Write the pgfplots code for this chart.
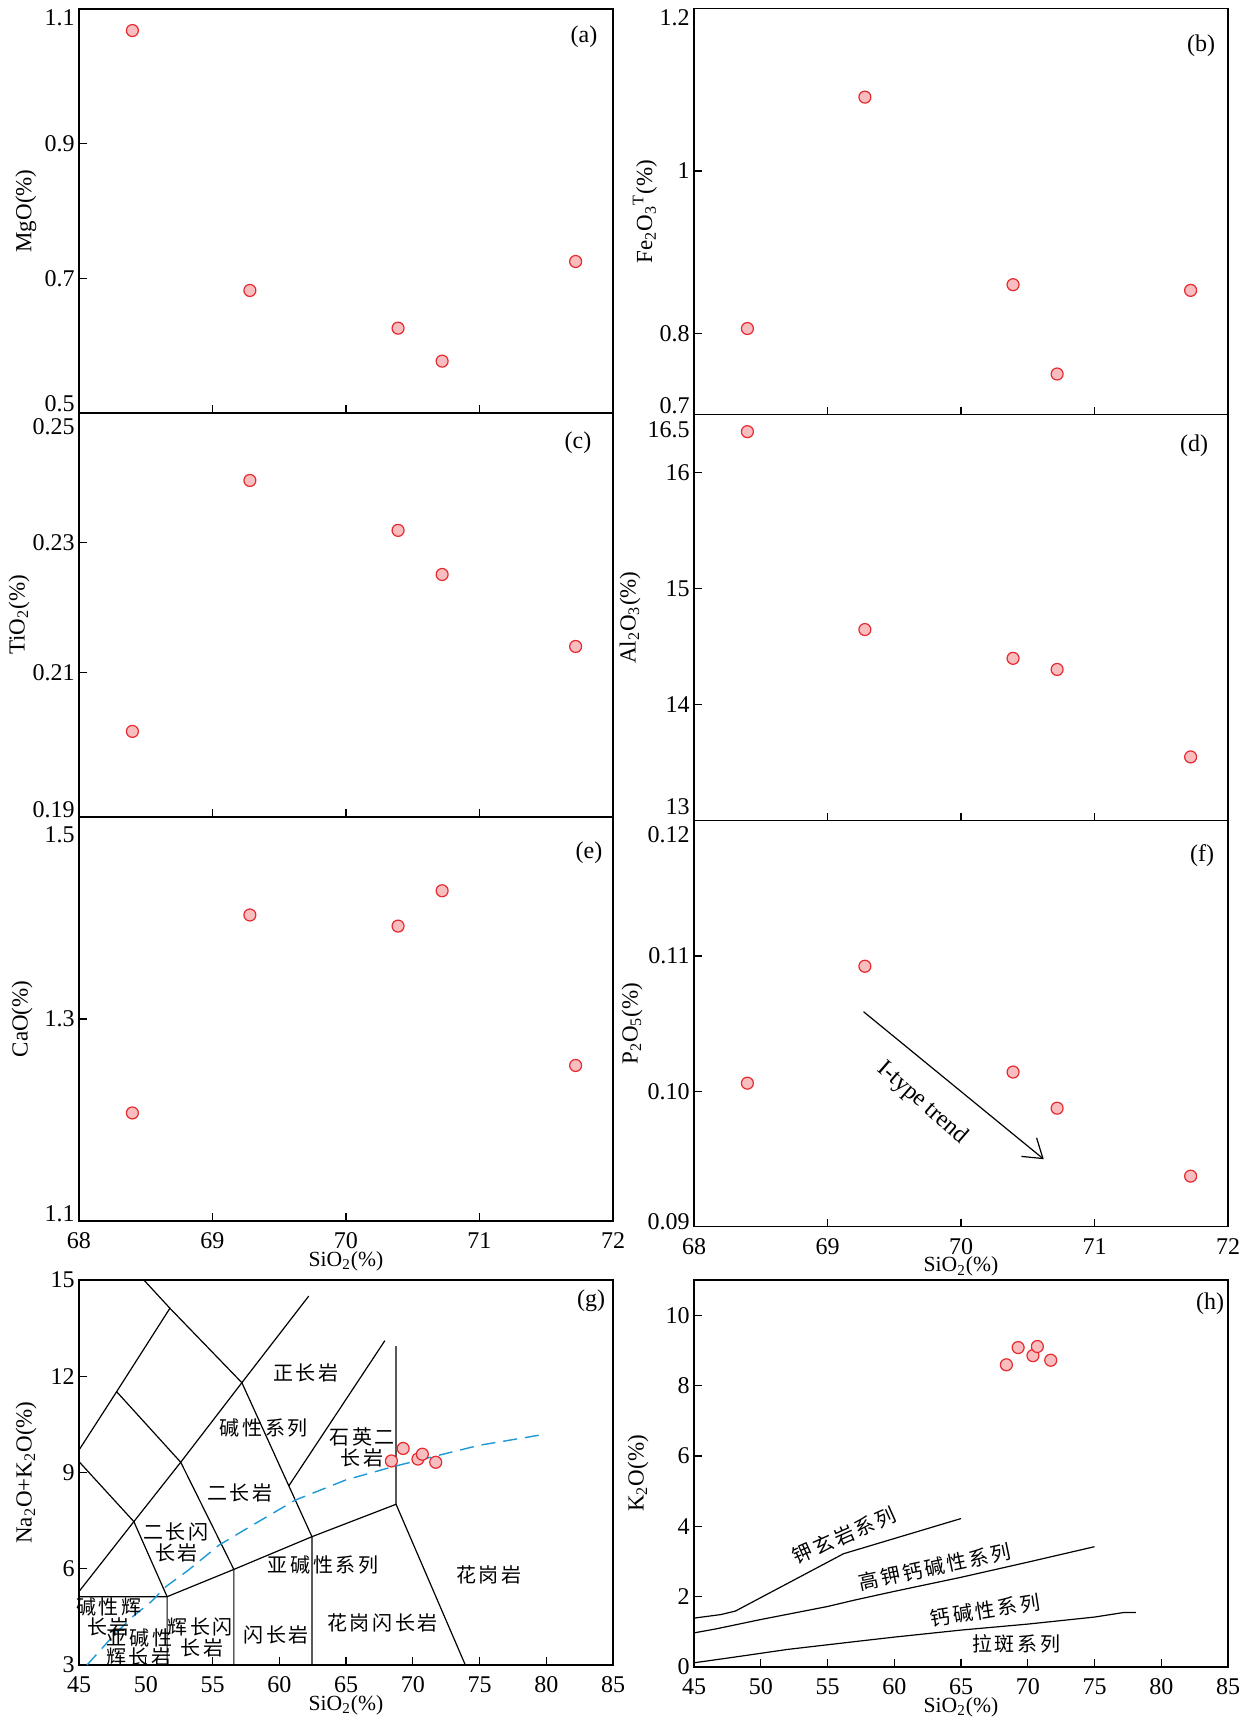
\documentclass[border=0pt]{standalone}
\usepackage{fontspec}
\setmainfont{Liberation Serif}
\newfontfamily\cjk[LetterSpace=13]{Noto Sans CJK SC}
\usepackage{pgfplots}
\pgfplotsset{compat=1.18}
\usetikzlibrary{arrows.meta,calc}
\definecolor{mkfill}{HTML}{F7BDBF}
\definecolor{mkedge}{HTML}{E62A2F}
\definecolor{tasblue}{HTML}{1A9AD6}
\newcommand{\rb}[2]{\raisebox{#1}[\height][\depth]{#2}}
\tikzset{
  plab/.style={font=\fontsize{12}{12}\selectfont},
  cj/.style={font=\cjk\fontsize{10}{10}\selectfont, inner sep=0pt},
}
\pgfplotsset{
  base/.style={
    scale only axis, anchor=north west,
    axis line style={line width=0.8pt},
    every tick/.style={black, line width=0.6pt},
    major tick length=4pt,
    xtick pos=bottom, ytick pos=left,
    extra y tick style={major tick length=0pt},
    extra x tick style={major tick length=0pt},
    tick label style={font=\fontsize{12}{12}\selectfont},
    yticklabel style={anchor=east, inner sep=0pt, xshift=-2pt},
    xticklabel style={anchor=center, yshift=-10pt},
    every axis y label/.style={rotate=90, anchor=center, font=\fontsize{11.5}{11.5}\selectfont},
    every axis x label/.style={at={(rel axis cs:0.5,0)}, anchor=center, yshift=-20pt, font=\fontsize{10.8}{10.8}\selectfont},
    clip=false,
  },
  toppanel/.style={base, width=267pt, height=202pt, xmin=68, xmax=72, xtick={69,70,71}},
  dots/.style={only marks, mark=*, mark size=3pt, mark options={fill=mkfill, draw=mkedge, line width=0.6pt}},
  bd/.style={black, line width=0.6pt, mark=none, solid},
}
\begin{document}
\begin{tikzpicture}
\useasboundingbox (0pt,0pt) rectangle (624pt,-860pt);

% (a)
\begin{axis}[toppanel, at={(39.5pt,-4.5pt)}, ymin=0.5, ymax=1.1,
  xticklabels={},
  ytick={0.7,0.9}, yticklabels={0.7,0.9},
  extra y ticks={0.5,1.1}, extra y tick labels={{\rb{4.5pt}{0.5}},{\rb{-4.6pt}{1.1}}},
  ylabel={MgO(\%)}, ylabel style={at={($(rel axis cs:0,0.5)+(-26.5pt,0pt)$)}}]
\addplot[dots] coordinates {(68.40,1.068) (69.28,0.682) (70.39,0.626) (70.72,0.577) (71.72,0.725)};
\node[plab] at ($(rel axis cs:1,1)+(-14.5pt,-14pt)$) {(a)};
\end{axis}

% (b)
\begin{axis}[toppanel, at={(347pt,-4.3pt)}, height=203pt, ymin=0.7, ymax=1.2,
  xticklabels={},
  ytick={0.8,1}, yticklabels={0.8,1},
  extra y ticks={0.7,1.2}, extra y tick labels={{\rb{4.5pt}{0.7}},{\rb{-4.8pt}{1.2}}},
  ylabel={Fe\textsubscript{2}O\textsubscript{3}\textsuperscript{T}(\%)}, ylabel style={at={($(rel axis cs:0,0.5)+(-24.5pt,0pt)$)}}]
\addplot[dots] coordinates {(68.40,0.806) (69.28,1.091) (70.39,0.860) (70.72,0.750) (71.72,0.853)};
\node[plab] at ($(rel axis cs:1,1)+(-13.5pt,-18.5pt)$) {(b)};
\end{axis}

% (c)
\begin{axis}[toppanel, at={(39.5pt,-206.5pt)}, ymin=0.1877, ymax=0.25,
  xticklabels={},
  ytick={0.21,0.23}, yticklabels={0.21,0.23},
  extra y ticks={0.19,0.25}, extra y tick labels={{\rb{-4pt}{0.19}},{\rb{-7pt}{0.25}}},
  ylabel={TiO\textsubscript{2}(\%)}, ylabel style={at={($(rel axis cs:0,0.5)+(-30pt,0pt)$)}}]
\addplot[dots] coordinates {(68.40,0.2009) (69.28,0.2396) (70.39,0.2319) (70.72,0.2251) (71.72,0.2140)};
\node[plab] at ($(rel axis cs:1,1)+(-17.5pt,-14.8pt)$) {(c)};
\end{axis}

% (d)
\begin{axis}[toppanel, at={(347pt,-207.3pt)}, height=203pt, ymin=13, ymax=16.5,
  xticklabels={},
  ytick={14,15,16}, yticklabels={14,15,16},
  extra y ticks={13,16.5}, extra y tick labels={{\rb{7pt}{13}},{\rb{-7.7pt}{16.5}}},
  ylabel={Al\textsubscript{2}O\textsubscript{3}(\%)}, ylabel style={at={($(rel axis cs:0,0.5)+(-32pt,0pt)$)}}]
\addplot[dots] coordinates {(68.40,16.353) (69.28,14.647) (70.39,14.399) (70.72,14.303) (71.72,13.549)};
\node[plab] at ($(rel axis cs:1,1)+(-17pt,-15.5pt)$) {(d)};
\end{axis}

% (e)
\begin{axis}[toppanel, at={(39.5pt,-408.5pt)}, ymin=1.1, ymax=1.5,
  xticklabels={69,70,71},
  extra x ticks={68,72}, extra x tick labels={68,72},
  ytick={1.3}, yticklabels={1.3},
  extra y ticks={1.1,1.5}, extra y tick labels={{\rb{3.5pt}{1.1}},{\rb{-9pt}{1.5}}},
  xlabel={SiO\textsubscript{2}(\%)},
  ylabel={CaO(\%)}, ylabel style={at={($(rel axis cs:0,0.5)+(-28.5pt,0pt)$)}}]
\addplot[dots] coordinates {(68.40,1.207) (69.28,1.403) (70.39,1.392) (70.72,1.427) (71.72,1.254)};
\node[plab] at ($(rel axis cs:1,1)+(-12pt,-18pt)$) {(e)};
\end{axis}

% (f)
\begin{axis}[toppanel, at={(347pt,-410.3pt)}, height=203pt, ymin=0.09, ymax=0.12,
  xticklabels={69,70,71},
  extra x ticks={68,72}, extra x tick labels={68,72},
  ytick={0.10,0.11}, yticklabels={0.10,0.11},
  extra y ticks={0.09,0.12}, extra y tick labels={{\rb{2.5pt}{0.09}},{\rb{-7pt}{0.12}}},
  xlabel={SiO\textsubscript{2}(\%)},
  ylabel={P\textsubscript{2}O\textsubscript{5}(\%)}, ylabel style={at={($(rel axis cs:0,0.5)+(-31pt,0pt)$)}}]
\addplot[dots] coordinates {(68.40,0.1006) (69.28,0.10924) (70.39,0.10142) (70.72,0.09875) (71.72,0.09373)};
\addplot[bd, -{Straight Barb[length=9pt,width=12pt]}] coordinates {(69.27,0.10588) (70.62,0.09498)};
\node[plab, rotate=-41] at (axis cs:69.71,0.09914) {I-type trend};
\node[plab] at ($(rel axis cs:1,1)+(-13pt,-17.5pt)$) {(f)};
\end{axis}

% (g)
\begin{axis}[base, at={(39.5pt,-640pt)}, width=267pt, height=192.5pt,
  xmin=45, xmax=85, ymin=3, ymax=15,
  xtick={50,55,...,80}, xticklabels={50,55,60,65,70,75,80},
  extra x ticks={45,85}, extra x tick labels={45,85},
  ytick={6,9,12}, yticklabels={6,9,12},
  extra y ticks={3,15}, extra y tick labels={3,15},
  xlabel={SiO\textsubscript{2}(\%)},
  ylabel={Na\textsubscript{2}O+K\textsubscript{2}O(\%)}, ylabel style={at={($(rel axis cs:0,0.5)+(-26.5pt,0pt)$)}}]
\addplot[bd] coordinates {(49.86,15) (51.81,14.12) (57.2,11.8) (62.45,7.0) (62.45,3)};
\addplot[bd] coordinates {(45,9.70) (47.82,11.52) (51.81,14.12)};
\addplot[bd] coordinates {(47.82,11.52) (52.62,9.32) (56.6,5.98) (56.6,3)};
\addplot[bd] coordinates {(45,5.29) (49.11,7.47) (52.62,9.32) (57.2,11.8) (62.21,14.5)};
\addplot[bd] coordinates {(45,9.34) (49.11,7.47) (51.6,5.13) (51.6,3)};
\addplot[bd] coordinates {(45,5.13) (51.6,5.13) (56.6,5.98) (62.45,7.0) (68.75,8.01) (68.75,12.94)};
\addplot[bd] coordinates {(68.75,8.01) (73.94,3)};
\addplot[bd] coordinates {(60.71,8.58) (67.91,13.11)};
\addplot[tasblue, line width=0.7pt, mark=none, dash pattern=on 7pt off 4pt] coordinates {(45.6,3.0) (47.5,3.88) (49.0,4.5) (50.4,4.97) (51.5,5.44) (53.2,5.96) (55.5,6.74) (58.0,7.36) (61.2,8.14) (65.0,8.77) (68.5,9.18) (71.0,9.44) (75.0,9.85) (80.0,10.2)};
\addplot[dots] coordinates {(68.40,9.36) (69.28,9.75) (70.39,9.42) (70.72,9.57) (71.72,9.32)};
\node[cj] at (axis cs:62.0,12.09) {正长岩};
\node[cj] at (axis cs:58.85,10.38) {碱性系列};
\node[cj] at (axis cs:66.2,10.12) {石英二};
\node[cj] at (axis cs:66.2,9.47) {长岩};
\node[cj] at (axis cs:57.05,8.35) {二长岩};
\node[cj] at (axis cs:52.26,7.16) {二长闪};
\node[cj] at (axis cs:52.3,6.48) {长岩};
\node[cj] at (axis cs:63.29,6.12) {亚碱性系列};
\node[cj] at (axis cs:75.7,5.81) {花岗岩};
\node[cj] at (axis cs:47.22,4.82) {碱性辉};
\node[cj] at (axis cs:47.2,4.19) {长岩};
\node[cj] at (axis cs:49.53,3.83) {亚碱性};
\node[cj] at (axis cs:49.47,3.26) {辉长岩};
\node[cj] at (axis cs:54.08,4.19) {辉长闪};
\node[cj] at (axis cs:54.2,3.52) {长岩};
\node[cj] at (axis cs:59.78,3.93) {闪长岩};
\node[cj] at (axis cs:67.73,4.30) {花岗闪长岩};
\node[plab] at ($(rel axis cs:1,1)+(-11pt,-10.5pt)$) {(g)};
\end{axis}

% (h)
\begin{axis}[base, at={(347pt,-640pt)}, width=267pt, height=193.5pt,
  xmin=45, xmax=85, ymin=0, ymax=11,
  xtick={50,55,...,80}, xticklabels={50,55,60,65,70,75,80},
  extra x ticks={45,85}, extra x tick labels={45,85},
  ytick={2,4,...,10}, yticklabels={2,4,6,8,10},
  extra y ticks={0}, extra y tick labels={0},
  xlabel={SiO\textsubscript{2}(\%)},
  ylabel={K\textsubscript{2}O(\%)}, ylabel style={at={($(rel axis cs:0,0.5)+(-28pt,0pt)$)}}]
\addplot[bd] coordinates {(45,1.39) (47,1.49) (48.1,1.59) (56.2,3.22) (65,4.22)};
\addplot[bd] coordinates {(45,0.97) (46.6,1.08) (50,1.35) (55,1.72) (57,1.9) (60,2.15) (65,2.55) (70,2.98) (75,3.42)};
\addplot[bd] coordinates {(45,0.12) (48,0.28) (52,0.5) (57,0.72) (60,0.85) (65,1.05) (70,1.22) (75,1.42) (77.2,1.55) (78.1,1.55)};
\addplot[dots] coordinates {(68.40,8.59) (69.28,9.08) (70.39,8.85) (70.72,9.11) (71.72,8.72)};
\node[cj, rotate=24] at (axis cs:56.24,3.74) {钾玄岩系列};
\node[cj, rotate=12] at (axis cs:63.03,2.84) {高钾钙碱性系列};
\node[cj, rotate=9] at (axis cs:66.82,1.61) {钙碱性系列};
\node[cj] at (axis cs:69.14,0.66) {拉斑系列};
\node[plab] at ($(rel axis cs:1,1)+(-9pt,-12pt)$) {(h)};
\end{axis}
\end{tikzpicture}
\end{document}
